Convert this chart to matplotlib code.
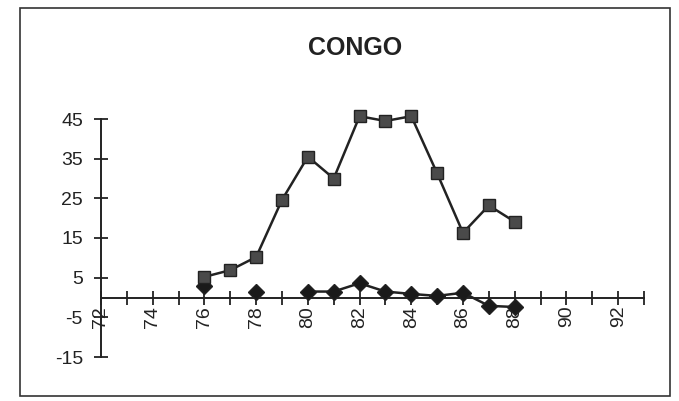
import matplotlib.pyplot as plt
import matplotlib.patches as patches
import numpy as np

# Congo series
years = [76, 77, 78, 79, 80, 81, 82, 83, 84, 85, 86, 87, 88]
upper = [5.2, 6.9, 10.2, 24.6, 35.5, 30.0, 45.7, 44.5, 45.7, 31.3, 16.3, 23.2, 19.1]
lower = [2.9, np.nan, 1.5, np.nan, 1.5, 1.5, 3.6, 1.5, 0.9, 0.4, 1.2, -2.1, -2.4]

x_ticks = list(range(72, 94))
x_labels = [str(v) if v % 2 == 0 and v <= 92 else '' for v in x_ticks]
y_ticks = [-15, -5, 5, 15, 25, 35, 45]

plt.rcParams['font.family'] = ['Liberation Sans', 'DejaVu Sans']

fig = plt.figure(figsize=(6.79, 4.01), dpi=100)
fig.patches.append(patches.Rectangle((20 / 679, 1 - 396 / 401), 650 / 679, 388 / 401,
                                     transform=fig.transFigure, fill=False,
                                     edgecolor='#333333', linewidth=1.2))

ax = fig.add_axes([101 / 679, 1 - 357 / 401, 543 / 679, 238 / 401])
ax.set_xlim(72, 93)
ax.set_ylim(-15, 45)

ink = '#222222'
ax.plot(years, lower, color=ink, linewidth=1.8, marker='D', markersize=8.5,
        markerfacecolor='#1a1a1a', markeredgecolor=ink, clip_on=False, zorder=3)
ax.plot(years, upper, color=ink, linewidth=1.8, marker='s', markersize=9,
        markerfacecolor='#4a4a4a', markeredgecolor=ink, clip_on=False, zorder=4)

for side in ['top', 'right']:
    ax.spines[side].set_visible(False)
ax.spines['bottom'].set_position(('data', 0))
ax.spines['left'].set_color(ink)
ax.spines['bottom'].set_color(ink)
ax.spines['left'].set_linewidth(1.4)
ax.spines['bottom'].set_linewidth(1.4)

ax.set_xticks(x_ticks)
ax.set_xticklabels(x_labels, rotation=90, fontsize=14)
ax.set_yticks(y_ticks)
ax.set_yticklabels([str(v) for v in y_ticks], fontsize=14)
ax.tick_params(axis='both', direction='inout', length=10, width=1.3, colors=ink)
ax.tick_params(axis='x', pad=1)
ax.tick_params(axis='y', pad=8)

fig.text(355 / 679, 1 - 48 / 401, 'CONGO', ha='center', va='center',
         fontsize=18, fontweight='bold', color=ink)

fig.savefig('out.png', dpi=100)
